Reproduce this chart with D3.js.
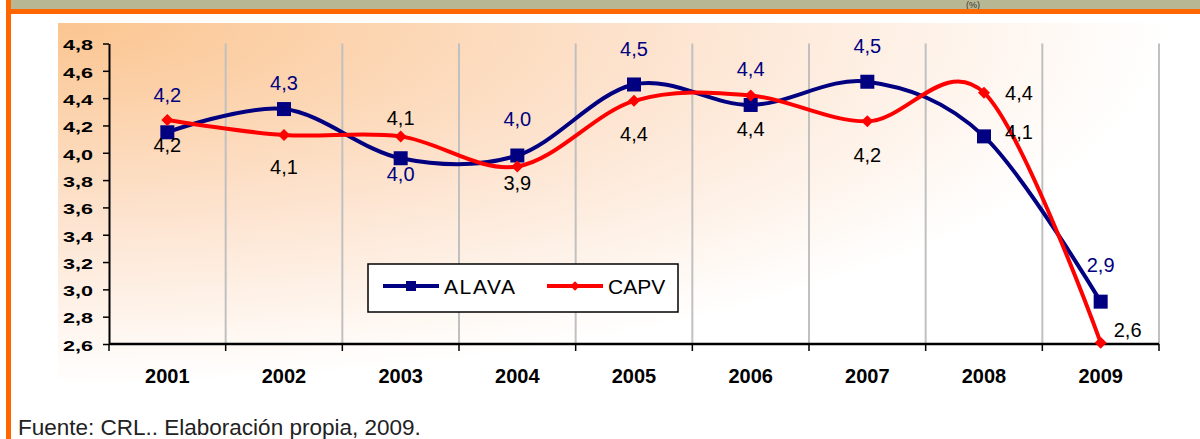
<!DOCTYPE html>
<html>
<head>
<meta charset="utf-8">
<script src="https://cdn.jsdelivr.net/npm/d3@7"></script>
<style>
html,body{margin:0;padding:0;background:#fff;}
svg{display:block;}
text{font-family:"Liberation Sans",Arial,sans-serif;}
</style>
</head>
<body>
<svg id="chart" width="1200" height="439"></svg>
<script>
// ---- data ----
const years = ["2001","2002","2003","2004","2005","2006","2007","2008","2009"];
const alava = [4.15, 4.32, 3.96, 3.98, 4.50, 4.35, 4.52, 4.12, 2.91];
const capv  = [4.24, 4.13, 4.12, 3.90, 4.38, 4.42, 4.23, 4.44, 2.61];
const yTicks = [2.6, 2.8, 3.0, 3.2, 3.4, 3.6, 3.8, 4.0, 4.2, 4.4, 4.6, 4.8];
const seriesNames = ["ALAVA", "CAPV"];
const footnote = "Fuente: CRL.. Elaboración propia, 2009.";

// label placement (pixel offsets from each marker) and colours
const alavaLabelOffsets = [[0,-37],[0,-26],[0,16],[0,-37],[0,-36],[0,-36],[0,-36],[35,-5],[0,-37]];
const capvLabelOffsets  = [[0,25],[0,32],[0,-19],[0,16],[0,33],[0,33],[0,33],[35,0],[27,-13]];
const alavaLabelColors  = ["#000080","#000080","#000080","#000080","#000080","#000080","#000080","#000000","#000080"];

const svg = d3.select("#chart");
const defs = svg.append("defs");
const grad = defs.append("radialGradient").attr("id","bg")
  .attr("cx",0).attr("cy",0).attr("r",1).attr("fx",0).attr("fy",0);
grad.append("stop").attr("offset","0%").attr("stop-color","#fbc590");
grad.append("stop").attr("offset","55%").attr("stop-color","#fde4d0");
grad.append("stop").attr("offset","100%").attr("stop-color","#ffffff");

// frame decorations
svg.append("rect").attr("x",11).attr("y",0).attr("width",1189).attr("height",9).attr("fill","#b8b794");
svg.append("text").attr("x",966).attr("y",7.5).attr("font-size",9).attr("fill","#333").text("(%)");
svg.append("rect").attr("x",6).attr("y",9).attr("width",1194).attr("height",5).attr("fill","#ff6600");
svg.append("rect").attr("x",6).attr("y",0).attr("width",5).attr("height",439).attr("fill","#ff6600");

// plot background
svg.append("rect").attr("x",58).attr("y",23).attr("width",1112).attr("height",362).attr("fill","url(#bg)");

// scales
const x = d3.scaleBand().domain(years).range([109, 1159]).padding(0);
const y = d3.scaleLinear().domain([2.6, 4.8]).range([344, 43.5]);
const cx = d => x(d) + x.bandwidth()/2;
const bounds = years.map(d => x(d)).concat([x.range()[1]]);

// vertical gridlines at category boundaries
svg.append("g").selectAll("line").data(bounds.slice(1)).join("line")
  .attr("x1", d=>d).attr("x2", d=>d).attr("y1", y(4.8)).attr("y2", y(2.6))
  .attr("stroke","#c0c0c0").attr("stroke-width",2);

// y axis
const yAxis = svg.append("g").attr("transform","translate(109,0)")
  .call(d3.axisLeft(y).tickValues(yTicks).tickSize(6).tickSizeOuter(0).tickPadding(10)
    .tickFormat(d => d.toFixed(1).replace(".", ",")));
yAxis.select(".domain").attr("stroke","#000").attr("stroke-width",2);
yAxis.selectAll(".tick line").attr("stroke","#000").attr("stroke-width",1.5);
yAxis.selectAll(".tick text").attr("font-family","'Liberation Sans',Arial,sans-serif")
  .attr("font-size",15).attr("font-weight","bold").attr("fill","#000")
  .attr("dy","0.42em").attr("textLength",30).attr("lengthAdjust","spacingAndGlyphs");

// x axis
const xg = svg.append("g");
xg.append("line").attr("x1",x.range()[0]).attr("x2",x.range()[1]).attr("y1",y(2.6)).attr("y2",y(2.6))
  .attr("stroke","#000").attr("stroke-width",2.5);
xg.selectAll("line.t").data(bounds).join("line").attr("class","t")
  .attr("x1",d=>d).attr("x2",d=>d).attr("y1",y(2.6)).attr("y2",y(2.6)+7)
  .attr("stroke","#000").attr("stroke-width",1.5);
xg.selectAll("text").data(years).join("text")
  .attr("x", d=>cx(d)).attr("y", 383).attr("text-anchor","middle")
  .attr("font-size",20).attr("font-weight","bold").attr("fill","#000").text(d=>d);

// lines
const line = d3.line().x((d,i)=>cx(years[i])).y(d=>y(d)).curve(d3.curveCardinal.tension(0));
svg.append("path").datum(alava).attr("d",line).attr("fill","none").attr("stroke","#000080").attr("stroke-width",4);
svg.append("path").datum(capv).attr("d",line).attr("fill","none").attr("stroke","#ff0000").attr("stroke-width",4);

// markers
svg.append("g").selectAll("rect").data(alava).join("rect")
  .attr("x",(d,i)=>cx(years[i])-7).attr("y",d=>y(d)-7).attr("width",14).attr("height",14).attr("fill","#000080");
const diamond = d3.symbol().type(d3.symbolSquare).size(72);
svg.append("g").selectAll("path").data(capv).join("path")
  .attr("d", diamond)
  .attr("transform",(d,i)=>`translate(${cx(years[i])},${y(d)}) rotate(45)`).attr("fill","#ff0000");

// data labels
const fmt = v => (Math.round(v*10)/10).toFixed(1).replace(".", ",");
svg.append("g").selectAll("text").data(alava).join("text")
  .attr("x",(d,i)=>cx(years[i])+alavaLabelOffsets[i][0])
  .attr("y",(d,i)=>y(d)+alavaLabelOffsets[i][1])
  .attr("dy","0.36em").attr("text-anchor","middle").attr("font-size",20)
  .attr("fill",(d,i)=>alavaLabelColors[i]).text(fmt);
svg.append("g").selectAll("text").data(capv).join("text")
  .attr("x",(d,i)=>cx(years[i])+capvLabelOffsets[i][0])
  .attr("y",(d,i)=>y(d)+capvLabelOffsets[i][1])
  .attr("dy","0.36em").attr("text-anchor","middle").attr("font-size",20).attr("fill","#000").text(fmt);

// legend
const lg = svg.append("g");
lg.append("rect").attr("x",368).attr("y",264).attr("width",310).attr("height",48)
  .attr("fill","#fff").attr("stroke","#000").attr("stroke-width",1.5);
lg.append("line").attr("x1",383).attr("x2",439).attr("y1",286).attr("y2",286).attr("stroke","#000080").attr("stroke-width",4);
lg.append("rect").attr("x",406).attr("y",281).attr("width",10).attr("height",10).attr("fill","#000080");
lg.append("text").attr("x",444).attr("y",294).attr("font-size",21).attr("letter-spacing",1.6).attr("fill","#000").text(seriesNames[0]);
lg.append("line").attr("x1",547).attr("x2",603).attr("y1",286).attr("y2",286).attr("stroke","#ff0000").attr("stroke-width",4);
lg.append("path").attr("d", d3.symbol().type(d3.symbolSquare).size(45))
  .attr("transform","translate(575,286) rotate(45)").attr("fill","#ff0000");
lg.append("text").attr("x",608).attr("y",294).attr("font-size",21).attr("fill","#000").text(seriesNames[1]);

// footnote
svg.append("text").attr("x",18).attr("y",435).attr("font-size",22.5).attr("fill","#222").text(footnote);
</script>
</body>
</html>
